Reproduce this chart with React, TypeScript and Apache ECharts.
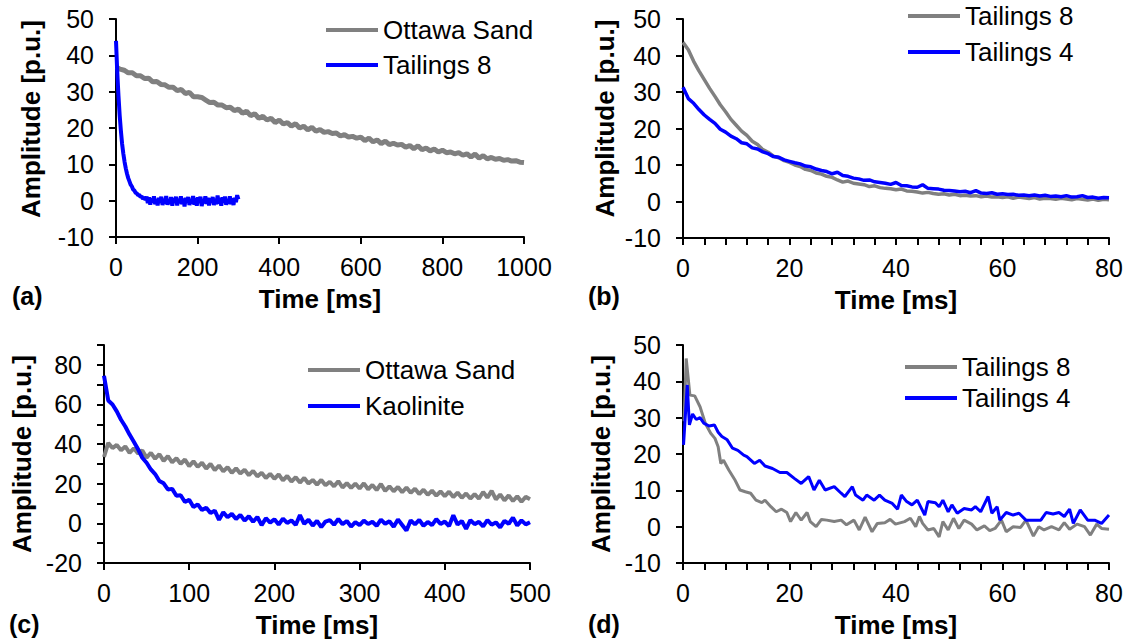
import React, { useEffect, useRef } from "react";
import * as echarts from "echarts";

// ---------------- DATA ----------------
// Panel (a): Ottawa Sand vs Tailings 8, regular sampling
const A_OTTAWA_STEP = 10; // ms
const aOttawa = [
  36.8, 36.2, 35.9, 35.2, 35.2, 34.4, 34.4, 33.6, 33.7, 32.7,
  32.8, 32.0, 31.9, 31.2, 31.2, 30.3, 30.6, 29.5, 29.8, 28.6,
  28.6, 28.4, 27.7, 27.0, 27.1, 26.3, 26.3, 25.6, 25.7, 24.8,
  25.2, 24.1, 24.6, 23.4, 23.9, 22.7, 23.2, 22.2, 22.7, 21.5,
  22.2, 21.1, 21.5, 20.5, 21.2, 20.0, 20.5, 19.5, 20.2, 19.1,
  19.6, 18.8, 19.0, 18.5, 18.6, 17.8, 18.2, 17.5, 17.7, 17.2,
  17.5, 16.5, 17.2, 16.2, 16.7, 15.7, 16.4, 15.4, 15.8, 15.3,
  15.5, 14.7, 15.2, 14.3, 15.1, 14.0, 14.5, 13.7, 14.2, 13.4,
  13.9, 13.2, 13.4, 12.9, 13.2, 12.5, 12.9, 12.0, 12.8, 11.7,
  12.4, 11.5, 11.9, 11.4, 11.6, 11.1, 11.3, 10.9, 11.0, 10.6,
  10.5,
];
const A_TAIL8_STEP = 3; // ms
const aTailings8 = [
  44.0, 35.5, 29.0, 23.5, 19.2, 15.6, 12.9, 10.7, 8.9, 7.4,
  6.2, 5.3, 4.4, 3.9, 3.1, 2.8, 2.2, 2.0, 1.5, 1.6,
  1.0, 1.2, 0.5, 0.9,
  0.2, 1.1, -0.7, 0.9, -1.1, 0.6, -0.5, 1.2, -1.0, 0.4,
  -1.3, 0.8, -0.6, 1.1, -1.2, 0.5, -0.8, 1.3, -1.1, 0.3,
  -0.9, 1.0, -1.4, 0.7, -0.4, 1.1, -1.3, 0.5, -0.7, 1.2,
  -1.0, 0.6, -1.6, 0.8, -0.5, 1.0, -1.2, 0.4, -0.8, 1.3,
  -1.1, 0.7, -1.4, 0.9, -0.6, 1.1, -1.5, 0.4, -0.7, 1.2,
  -0.9, 0.8, -1.3, 0.6, -0.4, 1.0, -1.2, 0.5, -1.0, 1.4,
  -0.8, 0.7, -1.4, 0.9, -0.5, 1.1, -1.1, 0.3, -0.8, 1.2,
  -1.0, 0.6, -1.2, 0.8, -0.4, 1.5, 0.4,
];

// Panel (b): Tailings 8 vs Tailings 4 (1 ms sampling)
const B_STEP = 1;
const bTailings8 = [
  43.6, 41.6, 38.4, 35.8, 33.4, 31.0, 28.8, 26.5, 24.6, 22.5,
  20.9, 19.3, 18.1, 16.5, 15.6, 14.2, 13.5, 12.4, 12.0, 11.2,
  10.7, 10.0, 9.6, 8.8, 8.5, 7.8, 7.5, 6.9, 6.6, 5.9,
  5.3, 5.6, 5.0, 4.8, 4.6, 4.1, 4.3, 3.8, 3.6, 3.5,
  3.2, 3.4, 2.9, 2.8, 2.6, 2.3, 2.5, 2.2, 2.0, 2.1,
  1.8, 2.0, 1.6, 1.7, 1.5, 1.6, 1.3, 1.5, 1.2, 1.3,
  1.1, 1.3, 0.9, 1.2, 1.0, 0.8, 1.1, 0.7, 0.9, 0.8,
  0.6, 0.9, 0.7, 0.5, 0.8, 0.6, 0.4, 0.7, 0.3, 0.6,
  0.5,
];
const bTailings4 = [
  31.3, 28.2, 26.9, 25.2, 23.7, 22.5, 21.4, 19.8, 19.0, 17.9,
  17.2, 16.1, 15.8, 14.7, 14.4, 13.6, 13.1, 12.3, 12.1, 11.4,
  11.0, 10.6, 10.3, 9.7, 9.5, 8.9, 8.5, 8.2, 7.6, 8.0,
  7.1, 6.9, 6.4, 6.2, 5.8, 5.9, 5.4, 5.2, 5.0, 4.7,
  5.2, 4.4, 4.3, 4.0, 3.9, 4.6, 3.6, 3.5, 3.4, 3.1,
  3.0, 2.9, 2.7, 2.8, 2.4, 3.0, 2.3, 2.2, 2.4, 2.0,
  2.1, 1.9, 2.0, 1.7, 1.8, 1.6, 1.8, 1.5, 1.7, 1.4,
  1.5, 1.3, 1.6, 1.2, 1.3, 1.6, 1.1, 1.2, 0.9, 1.1,
  1.0,
];

// Panel (c): Ottawa Sand vs Kaolinite (5 ms sampling)
const C_STEP = 5;
const cOttawa = [
  33.5, 40.6, 38.0, 39.6, 36.9, 38.8, 35.6, 37.9, 35.2, 36.8,
  33.1, 35.6, 32.6, 34.9, 31.5, 33.9, 30.8, 32.9, 30.1, 32.2,
  28.9, 31.3, 28.5, 30.6, 27.6, 30.0, 26.9, 29.2, 26.2, 28.4,
  25.5, 27.8, 25.1, 27.0, 24.3, 26.5, 23.7, 25.5, 22.9, 25.0,
  22.5, 24.7, 21.7, 23.9, 21.1, 23.3, 20.6, 22.9, 20.1, 21.9,
  19.6, 21.9, 19.2, 21.0, 18.7, 21.3, 18.1, 20.3, 17.9, 20.1,
  17.6, 20.2, 17.2, 19.4, 16.8, 19.9, 16.4, 18.7, 16.2, 18.4,
  15.7, 18.1, 15.4, 17.5, 14.8, 17.0, 14.4, 16.5, 14.0, 16.1,
  13.7, 16.0, 13.3, 15.5, 12.9, 15.1, 12.5, 14.8, 12.4, 15.8,
  13.0, 16.4, 12.1, 14.6, 11.6, 14.1, 11.3, 13.7, 10.9, 13.4,
  12.2,
];
const cKaolinite = [
  74.5, 62.0, 60.0, 56.5, 52.3, 48.9, 44.8, 41.2, 37.4, 33.1,
  30.6, 27.2, 24.9, 21.4, 20.2, 17.1, 17.4, 13.9, 14.2, 10.8,
  11.9, 8.3, 9.6, 6.7, 7.9, 5.2, 6.4, 1.8, 5.6, 3.1,
  4.8, 2.2, 4.3, 1.4, 3.6, 0.8, 3.2, -0.9, 2.6, 0.4,
  2.1, -0.6, 2.4, 0.2, 1.5, -0.8, 4.2, -0.2, 1.8, -1.1,
  1.3, -1.9, 0.9, 1.6, -0.7, 2.2, -0.4, 1.2, -1.6, 0.6,
  -0.9, 1.4, -0.3, 0.8, -1.3, 1.9, -0.2, 1.1, -1.7, 2.0,
  -0.8, -3.6, 1.5, -0.5, 1.8, -1.2, 0.7, -0.9, 2.1, -0.3,
  0.9, -1.4, 4.1, -0.6, 1.2, -2.8, 1.6, -0.4, 0.8, -1.5,
  1.7, -0.7, 0.5, -2.0, 1.3, -0.2, 2.9, -1.1, 1.5, -0.5,
  0.6,
];

// Panel (d): raw Tailings 8 and Tailings 4 (irregular times)
const dTimes8 = [
  0.2, 0.6, 1.3, 2.2, 3.2, 4.2, 5.2, 6.0, 6.6, 7.1, 7.6, 8.6, 9.7, 10.7, 11.7, 12.7,
  13.7, 14.8, 15.4, 16.5, 17.5, 18.5, 19.5, 20.2, 21.2, 22.2, 23.3, 23.9, 25.0, 26.0,
  27.0, 28.4, 29.7, 30.7, 32.1, 33.1, 34.2, 35.5, 36.5, 37.9, 38.9, 39.9, 41.6, 42.7,
  43.7, 44.4, 45.0, 46.0, 47.1, 48.1, 48.8, 49.8, 50.8, 51.8, 52.8, 54.2, 55.2, 56.6,
  57.6, 58.6, 59.8, 60.7, 62.0, 63.4, 64.4, 65.8, 66.8, 67.8, 69.2, 70.6, 71.6, 72.6,
  74.0, 75.4, 76.5, 77.7, 78.6, 80.0,
];
const dTailings8 = [
  29.0, 46.3, 36.2, 36.0, 33.0, 28.4, 25.7, 24.3, 22.0, 17.4, 18.3, 15.6, 13.0, 10.1, 9.6, 9.2,
  7.3, 6.6, 7.3, 5.5, 4.1, 4.8, 3.9, 1.4, 3.9, 1.8, 3.9, 1.4, 0.0, 2.0,
  1.8, 1.4, 1.8, 0.5, 1.8, -0.9, 2.6, -1.4, 0.9, 1.1, 2.0, 0.7, 1.4, 2.3,
  0.0, 2.8, 0.9, -0.9, -0.5, -2.8, 1.4, -0.9, 2.3, -0.5, 1.8, 0.7, -0.9, 0.2,
  -1.1, -0.5, 1.8, -1.4, 0.0, -0.2, 1.8, -2.6, 0.0, -0.9, 0.0, -0.9, 1.1, -0.7,
  0.7, 0.0, -2.3, 0.7, -0.5, -0.7,
];
const dTimes4 = [
  0.1, 0.8, 1.2, 1.8, 2.5, 3.2, 3.9, 4.9, 5.9, 6.6, 7.3, 8.3, 9.3, 10.3, 11.4, 12.0,
  13.4, 14.4, 15.4, 16.8, 18.2, 19.5, 20.9, 22.2, 23.6, 24.6, 25.6, 26.7, 28.4, 29.7,
  30.4, 31.8, 32.4, 33.8, 34.5, 35.9, 36.9, 37.9, 39.3, 40.3, 41.0, 42.0, 43.0, 44.0,
  45.4, 46.0, 47.4, 48.1, 48.8, 49.8, 50.5, 51.5, 52.8, 54.2, 54.9, 55.9, 57.3, 58.0,
  59.0, 59.5, 60.7, 62.0, 63.1, 64.4, 65.8, 67.2, 68.2, 69.5, 70.6, 71.6, 72.6, 73.3,
  74.6, 76.0, 77.3, 78.6, 80.0,
];
const dTailings4 = [
  22.5, 39.0, 28.0, 31.0, 29.5, 30.0, 28.5, 27.7, 28.0, 26.0, 24.8, 23.9, 21.6, 21.0, 19.7, 19.3,
  17.4, 18.3, 16.7, 16.0, 14.9, 14.9, 13.3, 11.9, 13.8, 10.1, 12.8, 10.1, 11.0, 9.2,
  8.3, 11.0, 8.7, 7.3, 8.7, 7.3, 8.7, 7.3, 6.4, 4.8, 8.7, 6.9, 6.0, 7.3,
  3.2, 6.9, 6.6, 5.5, 7.3, 4.1, 6.0, 3.7, 5.0, 4.6, 5.5, 4.1, 8.3, 3.7,
  5.5, 1.8, 3.9, 3.2, 3.7, 1.8, 1.8, 1.8, 3.9, 3.5, 3.9, 2.8, 4.8, 0.9,
  4.6, 1.8, 1.8, 0.9, 3.2,
];

const panelLetters = ["(a)", "(b)", "(c)", "(d)"];
const X_TITLE = "Time [ms]";
const Y_TITLE = "Amplitude [p.u.]";

// ---------------- STYLE ----------------
const FONT = "'Liberation Sans', Arial, sans-serif";
const GRAY = "#808080";
const BLUE = "#0000FF";

const regular = (vals: number[], step: number) => vals.map((v, i) => [i * step, v]);
const paired = (ts: number[], vals: number[]) => vals.map((v, i) => [ts[i], v]);

export default function App() {
  const ref = useRef<HTMLDivElement>(null);
  useEffect(() => {
    if (!ref.current) return;
    const chart = echarts.init(ref.current, undefined, { renderer: "svg" });

    const labelStyle = { color: "#000", fontSize: 25, fontFamily: FONT };
    const axisLine = { show: true, onZero: false, lineStyle: { color: "#000", width: 2 } };
    const axisTick = { show: true, inside: false, length: 7, lineStyle: { color: "#000", width: 2 } };
    const nameStyle = (pad: number) => ({
      color: "#000",
      fontSize: 26,
      fontWeight: "bold" as const,
      fontFamily: FONT,
      padding: [0, 0, 0, pad],
    });

    const mkX = (idx: number, max: number, interval: number, labelEvery: number) => ({
      type: "value",
      gridIndex: idx,
      min: 0,
      max,
      interval,
      name: X_TITLE,
      nameLocation: "middle",
      nameGap: 49,
      nameTextStyle: nameStyle(0),
      axisLine,
      axisTick,
      splitLine: { show: false },
      axisLabel: {
        ...labelStyle,
        margin: 17,
        formatter: (v: number) => (Math.abs(v % labelEvery) < 1e-9 ? String(v) : ""),
      },
    });
    const mkY = (idx: number, min: number, max: number, labelEvery: number, gap: number, pad: number) => ({
      type: "value",
      gridIndex: idx,
      min,
      max,
      interval: 10,
      name: Y_TITLE,
      nameLocation: "middle",
      nameRotate: 90,
      nameGap: gap,
      nameTextStyle: nameStyle(pad),
      axisLine,
      axisTick,
      splitLine: { show: false },
      axisLabel: {
        ...labelStyle,
        margin: 22,
        formatter: (v: number) => (Math.abs(v % labelEvery) < 1e-9 ? String(v) : ""),
      },
    });

    const strip = (name: string) => name.replace(/ \([a-d]\)$/, "");
    const mkLegend = (names: string[], left: number, top: number, gap: number) => ({
      data: names,
      orient: "vertical",
      left,
      top,
      padding: 0,
      icon: "rect",
      itemWidth: 52,
      itemHeight: 4,
      itemGap: gap,
      formatter: strip,
      selectedMode: false,
      textStyle: { color: "#000", fontSize: 26, fontFamily: FONT },
    });

    const mkSeries = (name: string, idx: number, data: number[][], color: string, width: number) => ({
      type: "line",
      name,
      xAxisIndex: idx,
      yAxisIndex: idx,
      data,
      symbol: "none",
      color,
      lineStyle: { color, width },
      itemStyle: { color },
      silent: true,
    });

    const letterPos = [
      [12, 297],
      [588, 297],
      [9, 625],
      [588, 625],
    ];

    chart.setOption({
      animation: false,
      grid: [
        { left: 116, top: 19, width: 408, height: 218 },
        { left: 683, top: 19, width: 426, height: 219 },
        { left: 104, top: 345, width: 426, height: 218 },
        { left: 683, top: 345, width: 426, height: 218 },
      ],
      xAxis: [mkX(0, 1000, 200, 200), mkX(1, 80, 4, 20), mkX(2, 500, 100, 100), mkX(3, 80, 4, 20)],
      yAxis: [
        mkY(0, -10, 50, 10, 72, 18),
        mkY(1, -10, 50, 10, 65, 20),
        mkY(2, -20, 90, 20, 69, 0),
        mkY(3, -10, 50, 10, 69, 0),
      ],
      legend: [
        mkLegend(["Ottawa Sand (a)", "Tailings 8 (a)"], 326, 17, 9),
        mkLegend(["Tailings 8 (b)", "Tailings 4 (b)"], 908, 3, 10),
        mkLegend(["Ottawa Sand (c)", "Kaolinite (c)"], 308, 357, 10),
        mkLegend(["Tailings 8 (d)", "Tailings 4 (d)"], 905, 354, 5),
      ],
      series: [
        mkSeries("Ottawa Sand (a)", 0, regular(aOttawa, A_OTTAWA_STEP), GRAY, 5),
        mkSeries("Tailings 8 (a)", 0, regular(aTailings8, A_TAIL8_STEP), BLUE, 4),
        mkSeries("Tailings 8 (b)", 1, regular(bTailings8, B_STEP), GRAY, 3.5),
        mkSeries("Tailings 4 (b)", 1, regular(bTailings4, B_STEP), BLUE, 3.5),
        mkSeries("Ottawa Sand (c)", 2, regular(cOttawa, C_STEP), GRAY, 4),
        mkSeries("Kaolinite (c)", 2, regular(cKaolinite, C_STEP), BLUE, 4),
        mkSeries("Tailings 8 (d)", 3, paired(dTimes8, dTailings8), GRAY, 3),
        mkSeries("Tailings 4 (d)", 3, paired(dTimes4, dTailings4), BLUE, 3),
      ],
      graphic: panelLetters.map((t, i) => ({
        type: "text",
        left: letterPos[i][0],
        top: letterPos[i][1] - 14,
        style: { text: t, fill: "#000", font: `bold 25px ${FONT}` },
      })),
    });

    return () => chart.dispose();
  }, []);

  return (
    <div
      ref={ref}
      style={{ position: "absolute", left: 0, top: 0, width: 1127, height: 644 }}
    />
  );
}
